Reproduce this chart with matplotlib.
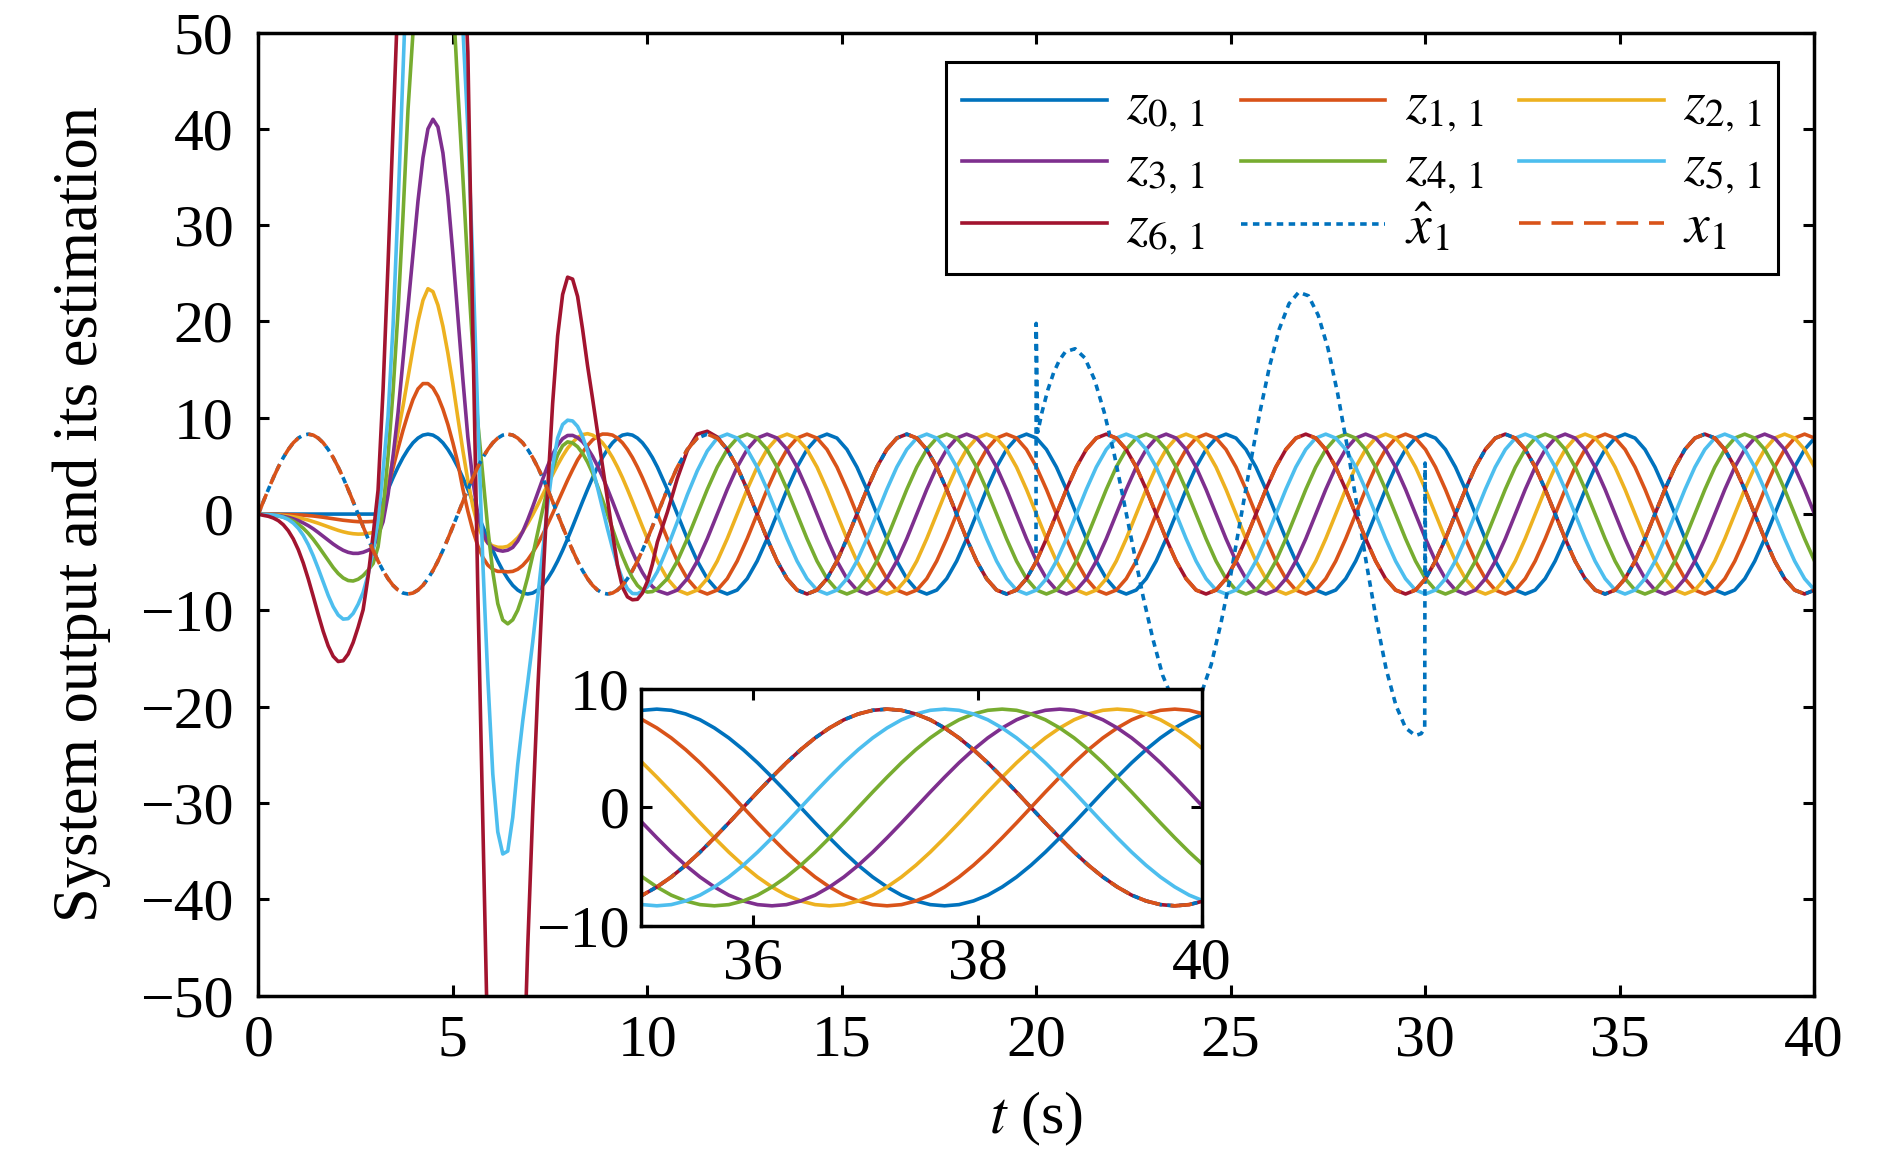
import numpy as np
import matplotlib
matplotlib.use("Agg")
import matplotlib.pyplot as plt

plt.rcParams['font.family'] = ['Liberation Serif', 'STIXGeneral', 'DejaVu Serif']
plt.rcParams['mathtext.fontset'] = 'stix'

# ---------------- data ----------------
dt_fine = 0.12825          # sampling of the start-up part (0 .. 10.26 s) and of the inset
dt = 0.2565                # sampling of the remaining part
t_early = np.arange(81) * dt_fine
t_late = np.arange(41, 157) * dt
t_inset = np.arange(272, 313) * dt_fine   # 34.88 .. 40.01 s

x1_early = [0, 1.3, 2.56, 3.77, 4.88, 5.87, 6.71, 7.4, 7.89, 8.2, 8.3, 8.2, 7.89, 7.4, 6.71, 5.87, 4.88, 3.77, 2.56, 1.3,
            0, -1.3, -2.56, -3.77, -4.88, -5.87, -6.71, -7.4, -7.89, -8.2, -8.3, -8.2, -7.89, -7.4, -6.71, -5.87, -4.88, -3.77, -2.56, -1.3,
            0, 1.3, 2.56, 3.77, 4.88, 5.87, 6.71, 7.4, 7.89, 8.2, 8.3, 8.2, 7.89, 7.4, 6.71, 5.87, 4.88, 3.77, 2.56, 1.3,
            0, -1.3, -2.56, -3.77, -4.88, -5.87, -6.71, -7.4, -7.89, -8.2, -8.3, -8.2, -7.89, -7.4, -6.71, -5.87, -4.88, -3.77, -2.56, -1.3,
            0]
x1_late = [2.56, 4.88, 6.71, 7.89, 8.3, 7.89, 6.71, 4.88, 2.56, 0, -2.56, -4.88, -6.71, -7.89, -8.3, -7.89, -6.71, -4.88, -2.56, 0,
           2.56, 4.88, 6.71, 7.89, 8.3, 7.89, 6.71, 4.88, 2.56, 0, -2.56, -4.88, -6.71, -7.89, -8.3, -7.89, -6.71, -4.88, -2.56, 0,
           2.56, 4.88, 6.71, 7.89, 8.3, 7.89, 6.71, 4.88, 2.56, 0, -2.56, -4.88, -6.71, -7.89, -8.3, -7.89, -6.71, -4.88, -2.56, 0,
           2.56, 4.88, 6.71, 7.89, 8.3, 7.89, 6.71, 4.88, 2.56, 0, -2.56, -4.88, -6.71, -7.89, -8.3, -7.89, -6.71, -4.88, -2.56, 0,
           2.56, 4.88, 6.71, 7.89, 8.3, 7.89, 6.71, 4.88, 2.56, 0, -2.56, -4.88, -6.71, -7.89, -8.3, -7.89, -6.71, -4.88, -2.56, 0,
           2.56, 4.88, 6.71, 7.89, 8.3, 7.89, 6.71, 4.88, 2.56, 0, -2.56, -4.88, -6.71, -7.89, -8.3, -7.89]

z0_early = [0, 0, 0, 0, 0, 0, 0, 0, 0, 0, 0, 0, 0, 0, 0, 0, 0, 0, 0, 0, 0, 0, 0, 0, 0,
            1.3, 2.56, 3.77, 4.88, 5.87, 6.71, 7.4, 7.89, 8.2, 8.3, 8.2, 7.89, 7.4, 6.71, 5.87, 4.88, 3.77, 2.56, 1.3,
            0, -1.3, -2.56, -3.77, -4.88, -5.87, -6.71, -7.4, -7.89, -8.2, -8.3, -8.2, -7.89, -7.4, -6.71, -5.87, -4.88, -3.77, -2.56, -1.3,
            0, 1.3, 2.56, 3.77, 4.88, 5.87, 6.71, 7.4, 7.89, 8.2, 8.3, 8.2, 7.89, 7.4, 6.71, 5.87, 4.88]
z0_late = [2.56, 0, -2.56, -4.88, -6.71, -7.89, -8.3, -7.89, -6.71, -4.88, -2.56, 0, 2.56, 4.88, 6.71, 7.89, 8.3, 7.89, 6.71, 4.88,
           2.56, 0, -2.56, -4.88, -6.71, -7.89, -8.3, -7.89, -6.71, -4.88, -2.56, 0, 2.56, 4.88, 6.71, 7.89, 8.3, 7.89, 6.71, 4.88,
           2.56, 0, -2.56, -4.88, -6.71, -7.89, -8.3, -7.89, -6.71, -4.88, -2.56, 0, 2.56, 4.88, 6.71, 7.89, 8.3, 7.89, 6.71, 4.88,
           2.56, 0, -2.56, -4.88, -6.71, -7.89, -8.3, -7.89, -6.71, -4.88, -2.56, 0, 2.56, 4.88, 6.71, 7.89, 8.3, 7.89, 6.71, 4.88,
           2.56, 0, -2.56, -4.88, -6.71, -7.89, -8.3, -7.89, -6.71, -4.88, -2.56, 0, 2.56, 4.88, 6.71, 7.89, 8.3, 7.89, 6.71, 4.88,
           2.56, 0, -2.56, -4.88, -6.71, -7.89, -8.3, -7.89, -6.71, -4.88, -2.56, 0, 2.56, 4.88, 6.71, 7.89]

z1_early = [0, 0, -0.01, -0.01, -0.02, -0.03, -0.04, -0.06, -0.08, -0.11, -0.15, -0.2, -0.26, -0.33, -0.41, -0.49, -0.57, -0.64, -0.7, -0.75,
            -0.79, -0.8, -0.79, -0.76, -0.5,
            0.9, 2.8, 4.8, 6.8, 8.7, 10.4, 11.9, 13.0, 13.55, 13.55, 13.1, 12.2, 10.9, 9.3, 7.4, 5.3, 2.6, 0.3, -1.7, -3.3,
            -4.5, -5.3, -5.75, -5.95, -5.95, -6.0, -5.95,
            -5.73, -5.33, -4.75, -4.0, -3.13, -2.14, -1.06, 0.06, 1.22, 2.38, 3.53, 4.6, 5.62, 6.41, 7.12, 7.7, 8.1, 8.31,
            8.3, 8.2, 7.89, 7.4, 6.71, 5.87, 4.88, 3.77, 2.56, 1.3, 0]
z1_late = [-2.56, -4.88, -6.71, -7.89, -8.3, -7.89, -6.71, -4.88, -2.56, 0, 2.56, 4.88, 6.71, 7.89, 8.3, 7.89, 6.71, 4.88, 2.56, 0,
           -2.56, -4.88, -6.71, -7.89, -8.3, -7.89, -6.71, -4.88, -2.56, 0, 2.56, 4.88, 6.71, 7.89, 8.3, 7.89, 6.71, 4.88, 2.56, 0,
           -2.56, -4.88, -6.71, -7.89, -8.3, -7.89, -6.71, -4.88, -2.56, 0, 2.56, 4.88, 6.71, 7.89, 8.3, 7.89, 6.71, 4.88, 2.56, 0,
           -2.56, -4.88, -6.71, -7.89, -8.3, -7.89, -6.71, -4.88, -2.56, 0, 2.56, 4.88, 6.71, 7.89, 8.3, 7.89, 6.71, 4.88, 2.56, 0,
           -2.56, -4.88, -6.71, -7.89, -8.3, -7.89, -6.71, -4.88, -2.56, 0, 2.56, 4.88, 6.71, 7.89, 8.3, 7.89, 6.71, 4.88, 2.56, 0,
           -2.56, -4.88, -6.71, -7.89, -8.3, -7.89, -6.71, -4.88, -2.56, 0, 2.56, 4.88, 6.71, 7.89, 8.3, 7.89]

z2_early = [0, -0.03, -0.05, -0.07, -0.1, -0.14, -0.2, -0.28, -0.37, -0.49, -0.62, -0.78, -0.95, -1.14, -1.33, -1.51, -1.69, -1.84, -1.96, -2.04,
            -2.08, -2.07, -2.01, -1.91, -1.5,
            0.5, 3, 5.8, 8.5, 11.2, 14.2, 17.2, 20, 22.2, 23.4, 23.1, 21.7, 19.5, 16.7, 13.5, 10, 6.6, 3.5, 0.8, -1.2,
            -2.4, -3.0, -3.3, -3.45, -3.45, -3.35,
            -2.96, -2.46, -1.8, -0.99, -0.07, 0.94, 1.99, 3.05, 4.1, 5.11, 6.03, 6.84, 7.45, 7.95, 8.25, 8.35,
            8.2, 7.89, 7.4, 6.71, 5.87, 4.88, 3.77, 2.56, 1.3, 0, -1.3, -2.56, -3.77, -4.88]
z2_late = [-6.71, -7.89, -8.3, -7.89, -6.71, -4.88, -2.56, 0, 2.56, 4.88, 6.71, 7.89, 8.3, 7.89, 6.71, 4.88, 2.56, 0, -2.56, -4.88,
           -6.71, -7.89, -8.3, -7.89, -6.71, -4.88, -2.56, 0, 2.56, 4.88, 6.71, 7.89, 8.3, 7.89, 6.71, 4.88, 2.56, 0, -2.56, -4.88,
           -6.71, -7.89, -8.3, -7.89, -6.71, -4.88, -2.56, 0, 2.56, 4.88, 6.71, 7.89, 8.3, 7.89, 6.71, 4.88, 2.56, 0, -2.56, -4.88,
           -6.71, -7.89, -8.3, -7.89, -6.71, -4.88, -2.56, 0, 2.56, 4.88, 6.71, 7.89, 8.3, 7.89, 6.71, 4.88, 2.56, 0, -2.56, -4.88,
           -6.71, -7.89, -8.3, -7.89, -6.71, -4.88, -2.56, 0, 2.56, 4.88, 6.71, 7.89, 8.3, 7.89, 6.71, 4.88, 2.56, 0, -2.56, -4.88,
           -6.71, -7.89, -8.3, -7.89, -6.71, -4.88, -2.56, 0, 2.56, 4.88, 6.71, 7.89, 8.3, 7.89, 6.71, 4.88]

z3_early = [0, -0.04, -0.06, -0.1, -0.16, -0.24, -0.34, -0.49, -0.68, -0.92, -1.2, -1.53, -1.91, -2.31, -2.71, -3.11, -3.46, -3.76, -3.97, -4.08,
            -4.08, -3.97, -3.76, -3.5, -2.2,
            -0.8, 2, 6, 10.5, 16, 21.5, 27, 32.5, 37, 40, 41, 40.2, 37.5, 33, 27, 20.5, 14, 8, 3.5, 0,
            -2.0, -3.0, -3.5, -3.75, -3.85, -3.75,
            -3.46, -2.8, -1.83, -0.6, 0.75, 2.2, 3.62, 5.0, 6.2, 7.15, 7.83, 8.16,
            8.17, 7.94, 7.5, 6.84, 6.0, 5.0, 3.87, 2.62, 1.31, -0.05, -1.38, -2.71, -3.94, -5.08, -6.07, -6.89, -7.53, -7.95]
z3_late = [-8.3, -7.89, -6.71, -4.88, -2.56, 0, 2.56, 4.88, 6.71, 7.89, 8.3, 7.89, 6.71, 4.88, 2.56, 0, -2.56, -4.88, -6.71, -7.89,
           -8.3, -7.89, -6.71, -4.88, -2.56, 0, 2.56, 4.88, 6.71, 7.89, 8.3, 7.89, 6.71, 4.88, 2.56, 0, -2.56, -4.88, -6.71, -7.89,
           -8.3, -7.89, -6.71, -4.88, -2.56, 0, 2.56, 4.88, 6.71, 7.89, 8.3, 7.89, 6.71, 4.88, 2.56, 0, -2.56, -4.88, -6.71, -7.89,
           -8.3, -7.89, -6.71, -4.88, -2.56, 0, 2.56, 4.88, 6.71, 7.89, 8.3, 7.89, 6.71, 4.88, 2.56, 0, -2.56, -4.88, -6.71, -7.89,
           -8.3, -7.89, -6.71, -4.88, -2.56, 0, 2.56, 4.88, 6.71, 7.89, 8.3, 7.89, 6.71, 4.88, 2.56, 0, -2.56, -4.88, -6.71, -7.89,
           -8.3, -7.89, -6.71, -4.88, -2.56, 0, 2.56, 4.88, 6.71, 7.89, 8.3, 7.89, 6.71, 4.88, 2.56, 0]

z4_early = [0, -0.04, -0.07, -0.12, -0.2, -0.32, -0.49, -0.73, -1.05, -1.47, -2.0, -2.62, -3.32, -4.07, -4.83, -5.55, -6.17, -6.63, -6.9, -6.95,
            -6.77, -6.39, -5.83, -5.14,
            -3.4, 0.5, 6, 12.7, 21, 31, 42, 50, 60, 69, 76, 79, 78, 72, 63, 54, 44, 35, 25.5, 17, 9.5, 4, -1.5, -6, -9.3, -11, -11.4,
            -10.98, -9.98, -8.47, -6.54, -4.31, -1.91, 0.45, 2.72, 4.67, 6.14, 7.1, 7.5,
            7.39, 6.99, 6.31, 5.39, 4.26, 2.91, 1.48, -0.03, -1.55, -3.03, -4.39, -5.6, -6.62, -7.41, -7.88, -8.1, -8.05, -7.75]
z4_late = [-6.71, -4.88, -2.56, 0, 2.56, 4.88, 6.71, 7.89, 8.3, 7.89, 6.71, 4.88, 2.56, 0, -2.56, -4.88, -6.71, -7.89, -8.3, -7.89,
           -6.71, -4.88, -2.56, 0, 2.56, 4.88, 6.71, 7.89, 8.3, 7.89, 6.71, 4.88, 2.56, 0, -2.56, -4.88, -6.71, -7.89, -8.3, -7.89,
           -6.71, -4.88, -2.56, 0, 2.56, 4.88, 6.71, 7.89, 8.3, 7.89, 6.71, 4.88, 2.56, 0, -2.56, -4.88, -6.71, -7.89, -8.3, -7.89,
           -6.71, -4.88, -2.56, 0, 2.56, 4.88, 6.71, 7.89, 8.3, 7.89, 6.71, 4.88, 2.56, 0, -2.56, -4.88, -6.71, -7.89, -8.3, -7.89,
           -6.71, -4.88, -2.56, 0, 2.56, 4.88, 6.71, 7.89, 8.3, 7.89, 6.71, 4.88, 2.56, 0, -2.56, -4.88, -6.71, -7.89, -8.3, -7.89,
           -6.71, -4.88, -2.56, 0, 2.56, 4.88, 6.71, 7.89, 8.3, 7.89, 6.71, 4.88, 2.56, 0, -2.56, -4.88]

z5_early = [0, -0.02, -0.05, -0.1, -0.19, -0.33, -0.57, -0.94, -1.47, -2.21, -3.17, -4.33, -5.65, -7.06, -8.44, -9.62, -10.48, -10.91, -10.86, -10.32,
            -9.37, -8.14,
            -6.3, -3.8, -0.6, 4.5, 10.2, 19.5, 32, 46, 60, 78, 95, 110, 120, 124, 120, 108, 92, 75, 60, 50.5,
            40, 26, 10, -5, -17, -27, -33, -35.3, -35, -31.5, -26, -21.5, -17.5, -13.3, -8.7, -3.9, 0.9, 5.0, 7.9, 9.3, 9.75,
            9.67, 9.1, 8.05, 6.55, 4.77, 2.74, 0.59, -1.54, -3.53, -5.34, -6.75, -7.76, -8.25, -8.27, -8.02, -7.55, -6.86, -5.98]
z5_late = [-3.5, -0.8, 2.0, 4.5, 6.55, 7.89, 8.3, 7.89, 6.71, 4.88, 2.56, 0, -2.56, -4.88, -6.71, -7.89, -8.3, -7.89, -6.71, -4.88,
           -2.56, 0, 2.56, 4.88, 6.71, 7.89, 8.3, 7.89, 6.71, 4.88, 2.56, 0, -2.56, -4.88, -6.71, -7.89, -8.3, -7.89, -6.71, -4.88,
           -2.56, 0, 2.56, 4.88, 6.71, 7.89, 8.3, 7.89, 6.71, 4.88, 2.56, 0, -2.56, -4.88, -6.71, -7.89, -8.3, -7.89, -6.71, -4.88,
           -2.56, 0, 2.56, 4.88, 6.71, 7.89, 8.3, 7.89, 6.71, 4.88, 2.56, 0, -2.56, -4.88, -6.71, -7.89, -8.3, -7.89, -6.71, -4.88,
           -2.56, 0, 2.56, 4.88, 6.71, 7.89, 8.3, 7.89, 6.71, 4.88, 2.56, 0, -2.56, -4.88, -6.71, -7.89, -8.3, -7.89, -6.71, -4.88,
           -2.56, 0, 2.56, 4.88, 6.71, 7.89, 8.3, 7.89, 6.71, 4.88, 2.56, 0, -2.56, -4.88, -6.71, -7.89]

z6_early = [0, -0.13, -0.23, -0.41, -0.68, -1.11, -1.73, -2.58, -3.69, -5.08, -6.73, -8.54, -10.41, -12.18, -13.69, -14.77, -15.31, -15.23, -14.54, -13.34,
            -11.75, -9.94,
            -6.5, -2.2, 2.5, 12.9, 26, 40, 54, 75, 105, 135, 160, 178, 186, 185, 175, 155, 130, 100, 78, 60, 48,
            19, -8, -32, -56, -85, -108, -120, -118, -105, -85, -62, -45,
            -31, -18.5, -7.5, 2.5, 11.5, 18.5, 22.8, 24.6, 24.4, 22.6, 19.2, 15.4, 12.0, 8.5, 5, 1.5, -2, -5.3, -7.6, -8.6,
            -8.9, -8.85, -8.2, -7.0, -5.2, -2.9]
z6_late = [0.2, 3.7, 6.6, 8.3, 8.6, 8.0, 6.71, 4.88, 2.56, 0, -2.56, -4.88, -6.71, -7.89, -8.3, -7.89, -6.71, -4.88, -2.56, 0,
           2.56, 4.88, 6.71, 7.89, 8.3, 7.89, 6.71, 4.88, 2.56, 0, -2.56, -4.88, -6.71, -7.89, -8.3, -7.89, -6.71, -4.88, -2.56, 0,
           2.56, 4.88, 6.71, 7.89, 8.3, 7.89, 6.71, 4.88, 2.56, 0, -2.56, -4.88, -6.71, -7.89, -8.3, -7.89, -6.71, -4.88, -2.56, 0,
           2.56, 4.88, 6.71, 7.89, 8.3, 7.89, 6.71, 4.88, 2.56, 0, -2.56, -4.88, -6.71, -7.89, -8.3, -7.89, -6.71, -4.88, -2.56, 0,
           2.56, 4.88, 6.71, 7.89, 8.3, 7.89, 6.71, 4.88, 2.56, 0, -2.56, -4.88, -6.71, -7.89, -8.3, -7.89, -6.71, -4.88, -2.56, 0,
           2.56, 4.88, 6.71, 7.89, 8.3, 7.89, 6.71, 4.88, 2.56, 0, -2.56, -4.88, -6.71, -7.89, -8.3, -7.89]

# finer reading of the last 5 s, used by the inset
x1_inset = [-7.89, -7.4, -6.71, -5.87, -4.88, -3.77, -2.56, -1.3, 0, 1.3, 2.56, 3.77, 4.88, 5.87, 6.71, 7.4, 7.89, 8.2, 8.3, 8.2,
            7.89, 7.4, 6.71, 5.87, 4.88, 3.77, 2.56, 1.3, 0, -1.3, -2.56, -3.77, -4.88, -5.87, -6.71, -7.4, -7.89, -8.2, -8.3, -8.2, -7.89]
z6_inset = [-7.89, -7.4, -6.71, -5.87, -4.88, -3.77, -2.56, -1.3, 0, 1.3, 2.56, 3.77, 4.88, 5.87, 6.71, 7.4, 7.89, 8.2, 8.3, 8.2,
            7.89, 7.4, 6.71, 5.87, 4.88, 3.77, 2.56, 1.3, 0, -1.3, -2.56, -3.77, -4.88, -5.87, -6.71, -7.4, -7.89, -8.2, -8.3, -8.2, -7.89]
z5_inset = [-7.89, -8.2, -8.3, -8.2, -7.89, -7.4, -6.71, -5.87, -4.88, -3.77, -2.56, -1.3, 0, 1.3, 2.56, 3.77, 4.88, 5.87, 6.71, 7.4,
            7.89, 8.2, 8.3, 8.2, 7.89, 7.4, 6.71, 5.87, 4.88, 3.77, 2.56, 1.3, 0, -1.3, -2.56, -3.77, -4.88, -5.87, -6.71, -7.4, -7.89]
z4_inset = [-4.88, -5.87, -6.71, -7.4, -7.89, -8.2, -8.3, -8.2, -7.89, -7.4, -6.71, -5.87, -4.88, -3.77, -2.56, -1.3, 0, 1.3, 2.56, 3.77,
            4.88, 5.87, 6.71, 7.4, 7.89, 8.2, 8.3, 8.2, 7.89, 7.4, 6.71, 5.87, 4.88, 3.77, 2.56, 1.3, 0, -1.3, -2.56, -3.77, -4.88]
z3_inset = [0, -1.3, -2.56, -3.77, -4.88, -5.87, -6.71, -7.4, -7.89, -8.2, -8.3, -8.2, -7.89, -7.4, -6.71, -5.87, -4.88, -3.77, -2.56, -1.3,
            0, 1.3, 2.56, 3.77, 4.88, 5.87, 6.71, 7.4, 7.89, 8.2, 8.3, 8.2, 7.89, 7.4, 6.71, 5.87, 4.88, 3.77, 2.56, 1.3, 0]
z2_inset = [4.88, 3.77, 2.56, 1.3, 0, -1.3, -2.56, -3.77, -4.88, -5.87, -6.71, -7.4, -7.89, -8.2, -8.3, -8.2, -7.89, -7.4, -6.71, -5.87,
            -4.88, -3.77, -2.56, -1.3, 0, 1.3, 2.56, 3.77, 4.88, 5.87, 6.71, 7.4, 7.89, 8.2, 8.3, 8.2, 7.89, 7.4, 6.71, 5.87, 4.88]
z1_inset = [7.89, 7.4, 6.71, 5.87, 4.88, 3.77, 2.56, 1.3, 0, -1.3, -2.56, -3.77, -4.88, -5.87, -6.71, -7.4, -7.89, -8.2, -8.3, -8.2,
            -7.89, -7.4, -6.71, -5.87, -4.88, -3.77, -2.56, -1.3, 0, 1.3, 2.56, 3.77, 4.88, 5.87, 6.71, 7.4, 7.89, 8.2, 8.3, 8.2, 7.89]
z0_inset = [7.89, 8.2, 8.3, 8.2, 7.89, 7.4, 6.71, 5.87, 4.88, 3.77, 2.56, 1.3, 0, -1.3, -2.56, -3.77, -4.88, -5.87, -6.71, -7.4,
            -7.89, -8.2, -8.3, -8.2, -7.89, -7.4, -6.71, -5.87, -4.88, -3.77, -2.56, -1.3, 0, 1.3, 2.56, 3.77, 4.88, 5.87, 6.71, 7.4, 7.89]

# estimation x_hat deviates from x1 between 20 s and 30 s
t_hat_mid = [19.995, 20.0, 20.04, 20.15, 20.3, 20.45, 20.6, 20.75,
             21.0, 21.25, 21.5, 21.75, 22.0, 22.25, 22.5, 22.75, 23.0, 23.25, 23.5, 23.75,
             24.0, 24.25, 24.5, 24.75, 25.0, 25.25, 25.5, 25.75, 26.0, 26.25, 26.5, 26.75,
             27.0, 27.25, 27.5, 27.75, 28.0, 28.25, 28.5, 28.75, 29.0, 29.25, 29.5, 29.75,
             29.9, 29.99, 30.0, 30.01]
xhat_mid = [-5.0, 19.8, 8.5, 10.6, 12.9, 14.7, 16.0, 16.85,
            17.17, 16.22, 13.96, 10.56, 6.34, 1.4, -3.65, -8.59, -12.96, -16.73, -19.14, -20.39,
            -20.23, -18.58, -15.62, -11.34, -6.37, -0.66, 5.09, 10.54, 15.34, 19.22, 21.84, 23.04,
            22.67, 20.66, 17.25, 12.54, 6.97, 0.79, -5.34, -11.06, -16.13, -19.87, -22.22, -23.0,
            -22.8, -22.2, 5.3, -6.7]

labels = [r'$z_{0,\,1}$', r'$z_{1,\,1}$', r'$z_{2,\,1}$', r'$z_{3,\,1}$', r'$z_{4,\,1}$',
          r'$z_{5,\,1}$', r'$z_{6,\,1}$', r'$\hat{x}_1$', r'$x_1$']
colors = ['#0072BD', '#D95319', '#EDB120', '#7E2F8E', '#77AC30', '#4DBEEE', '#A2142F']

# ---------------- assemble ----------------
t = np.concatenate([t_early, t_late])
z_series = [np.array(a + b, dtype=float) for a, b in [
    (z0_early, z0_late), (z1_early, z1_late), (z2_early, z2_late), (z3_early, z3_late),
    (z4_early, z4_late), (z5_early, z5_late), (z6_early, z6_late)]]
x1 = np.array(x1_early + x1_late, dtype=float)
pre = t < 19.9
post = t > 30.1
t_hat = np.concatenate([t[pre], t_hat_mid, t[post]])
xhat = np.concatenate([x1[pre], xhat_mid, x1[post]])

z_inset = [z0_inset, z1_inset, z2_inset, z3_inset, z4_inset, z5_inset, z6_inset]

LW = 2.6
DOT = (0, (1.8, 1.5))
DASH = (0, (6, 3))

fig = plt.figure(figsize=(18.9, 11.56), dpi=100)
ax = fig.add_axes([0.1367, 0.1388, 0.8231, 0.8330])
hs = []
for v, c, lab in zip(z_series, colors, labels[:7]):
    h, = ax.plot(t, v, color=c, lw=LW, label=lab)
    hs.append(h)
h, = ax.plot(t_hat, xhat, color=colors[0], lw=LW, ls=DOT, label=labels[7])
hs.append(h)
h, = ax.plot(t, x1, color=colors[1], lw=LW, ls=DASH, label=labels[8])
hs.append(h)

ax.set_xlim(0, 40)
ax.set_ylim(-50, 50)
ax.set_xticks(np.arange(0, 41, 5))
ax.set_yticks(np.arange(-50, 51, 10))
ax.tick_params(direction='in', length=8, width=2.2, top=True, right=True, labelsize=43)
ax.tick_params(axis='x', pad=14)
ax.tick_params(axis='y', pad=18)
for s in ax.spines.values():
    s.set_linewidth(2.5)
ax.set_xlabel(r'$t$ (s)', fontsize=43)
ax.set_ylabel('System output and its estimation', fontsize=45)
ax.xaxis.set_label_coords(0.5, -0.098)
ax.yaxis.set_label_coords(-0.095, 0.5)

order = [0, 3, 6, 1, 4, 7, 2, 5, 8]
leg = ax.legend([hs[i] for i in order], [labels[i] for i in order], ncol=3,
                loc='upper right', bbox_to_anchor=(0.977, 0.969), borderaxespad=0,
                fontsize=40, handlelength=2.6, handletextpad=0.35, columnspacing=0.65,
                labelspacing=0.12, borderpad=0.3, fancybox=False, framealpha=1,
                edgecolor='black')
leg.get_frame().set_linewidth(2.2)

# inset
axi = fig.add_axes([0.3392, 0.199, 0.2968, 0.205])
for v, c in zip(z_inset, colors):
    axi.plot(t_inset, v, color=c, lw=LW)
axi.plot(t_inset, x1_inset, color=colors[0], lw=LW, ls=DOT)
axi.plot(t_inset, x1_inset, color=colors[1], lw=LW, ls=DASH)
axi.set_xlim(35, 40)
axi.set_ylim(-10, 10)
axi.set_xticks([36, 38, 40])
axi.set_yticks([-10, 0, 10])
axi.tick_params(direction='in', length=8, width=2.2, top=True, right=True,
                labelsize=43, pad=8)
for s in axi.spines.values():
    s.set_linewidth(2.5)

fig.savefig('out.png', dpi=100)
